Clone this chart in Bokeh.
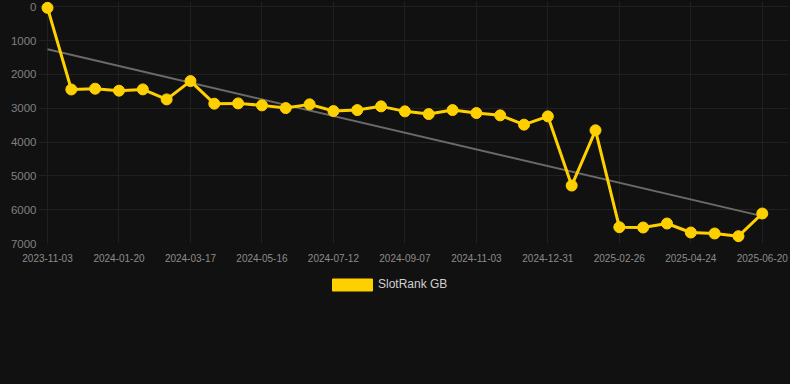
from bokeh.plotting import figure
from bokeh.layouts import column
from bokeh.models import (Range1d, FixedTicker, Legend, LegendItem, ColumnDataSource)
from bokeh.embed import file_html
from bokeh.resources import INLINE
import numpy as np

# ---- data ----
tick_labels = ["2023-11-03", "2024-01-20", "2024-03-17", "2024-05-16", "2024-07-12",
               "2024-09-07", "2024-11-03", "2024-12-31", "2025-02-26", "2025-04-24",
               "2025-06-20"]
ranks = [30, 2445, 2422, 2481, 2442, 2738, 2197, 2865, 2856, 2915, 2995,
         2885, 3083, 3054, 2944, 3092, 3172, 3054, 3142, 3210, 3485,
         3240, 5286, 3653, 6518, 6527, 6409, 6675, 6704, 6784, 6113]
series_name = "SlotRank GB"
y_ticks = [0, 1000, 2000, 3000, 4000, 5000, 6000, 7000]

idx = list(range(len(ranks)))
label_every = 3

coef = np.polyfit(idx, ranks, 1)
trend_x = [idx[0], idx[-1]]
trend_y = [float(np.polyval(coef, t)) for t in trend_x]

BG = "#111111"
YELLOW = "#FFD000"
W = 790
LEFT = 38

p = figure(width=W, height=270, output_backend="svg", toolbar_location=None,
           x_range=Range1d(-0.378, 31.1), y_range=Range1d(7000, -157),
           min_border_left=LEFT, min_border_right=2, min_border_top=1,
           min_border_bottom=27)
p.background_fill_color = BG
p.border_fill_color = BG
p.outline_line_color = None

p.xgrid.grid_line_color = "#202020"
p.ygrid.grid_line_color = "#202020"

tick_pos = idx[::label_every]
p.xaxis.ticker = FixedTicker(ticks=tick_pos)
p.xaxis.major_label_overrides = {t: l for t, l in zip(tick_pos, tick_labels)}
p.yaxis.ticker = FixedTicker(ticks=y_ticks)

for ax in (p.xaxis, p.yaxis):
    ax.axis_line_color = None
    ax.major_tick_line_color = None
    ax.minor_tick_line_color = None
    ax.major_tick_out = 0
    ax.major_tick_in = 0
    ax.major_label_text_font = "Liberation Sans"
p.xaxis.major_label_text_font_size = "10px"
p.xaxis.major_label_text_color = "#8c8c8c"
p.xaxis.major_label_standoff = 10
p.yaxis.major_label_text_font_size = "11.5px"
p.yaxis.major_label_text_color = "#808080"
p.yaxis.major_label_standoff = 2

p.line(trend_x, trend_y, line_color="#6a6a6a", line_width=2)
p.line(idx, ranks, line_color=YELLOW, line_width=3)
p.scatter(idx, ranks, size=11, fill_color=YELLOW, line_color=YELLOW)

# legend strip below the chart
q = figure(width=W, height=114, output_backend="svg", toolbar_location=None,
           x_range=Range1d(0, 1), y_range=Range1d(0, 1),
           min_border_left=LEFT, min_border_right=2, min_border_top=0,
           min_border_bottom=0, x_axis_type=None, y_axis_type=None)
q.background_fill_color = BG
q.border_fill_color = BG
q.outline_line_color = None
q.grid.visible = False

nan = float("nan")
dummy = q.quad(source=ColumnDataSource(dict(left=[nan], right=[nan], top=[nan], bottom=[nan])),
               left="left", right="right", top="top", bottom="bottom",
               fill_color=YELLOW, line_color=YELLOW)

legend = Legend(items=[LegendItem(label=series_name, renderers=[dummy])],
                location=(327 - LEFT, 92.5), orientation="horizontal",
                glyph_width=50, glyph_height=15, label_height=15,
                label_standoff=1, padding=0, margin=0, spacing=0,
                background_fill_alpha=0, border_line_color=None,
                label_text_font="Liberation Sans", label_text_font_size="12px",
                label_text_color="#d0d0d0")
q.add_layout(legend, "center")

layout = column(p, q, spacing=0, styles={"background-color": BG})
open("out.html", "w").write(file_html(layout, INLINE))
